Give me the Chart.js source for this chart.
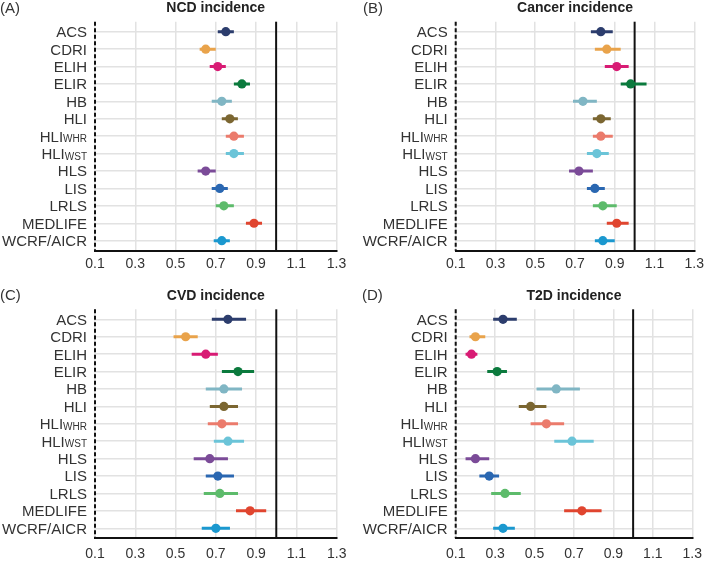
<!DOCTYPE html>
<html>
<head>
<meta charset="utf-8">
<script src="https://cdn.jsdelivr.net/npm/chart.js@4.4.1/dist/chart.umd.min.js"></script>
<style>
  html, body { margin: 0; padding: 0; background: #fff; }
  #wrap { position: relative; width: 709px; height: 563px; overflow: hidden; }
  canvas { position: absolute; }
</style>
</head>
<body>
<div id="wrap">
  <canvas id="panelA" width="354" height="281" style="left:0;top:0"></canvas>
  <canvas id="panelB" width="355" height="281" style="left:354px;top:0"></canvas>
  <canvas id="panelC" width="354" height="282" style="left:0;top:281px"></canvas>
  <canvas id="panelD" width="355" height="282" style="left:354px;top:281px"></canvas>
</div>
<script>
// score names (main text + small subscript part)
const labelMain = ["ACS", "CDRI", "ELIH", "ELIR", "HB", "HLI", "HLI", "HLI", "HLS", "LIS", "LRLS", "MEDLIFE", "WCRF/AICR"];
const labelSub = ["", "", "", "", "", "", "WHR", "WST", "", "", "", "", ""];
const scoreColors = ["#2c3d6d", "#e9a34b", "#d81b74", "#0b7a3d", "#80b6c4", "#7b6631", "#eb7b6c", "#6bc4d8", "#7b4b98", "#2a67b1", "#5dbb6b", "#e0452f", "#1b98cf"];

const xTicks = [0.1, 0.3, 0.5, 0.7, 0.9, 1.1, 1.3];
const refValue = 1.0;

// NCD incidence
const ncdEst = [0.75, 0.65, 0.71, 0.83, 0.73, 0.77, 0.79, 0.79, 0.65, 0.72, 0.74, 0.89, 0.73];
const ncdLo  = [0.71, 0.62, 0.67, 0.79, 0.68, 0.73, 0.75, 0.75, 0.61, 0.68, 0.70, 0.85, 0.69];
const ncdHi  = [0.79, 0.70, 0.75, 0.87, 0.78, 0.81, 0.84, 0.84, 0.70, 0.76, 0.79, 0.93, 0.77];

// Cancer incidence
const cancerEst = [0.83, 0.86, 0.91, 0.98, 0.74, 0.83, 0.83, 0.81, 0.72, 0.80, 0.84, 0.91, 0.84];
const cancerLo  = [0.78, 0.80, 0.85, 0.93, 0.69, 0.79, 0.79, 0.76, 0.67, 0.76, 0.79, 0.86, 0.80];
const cancerHi  = [0.89, 0.93, 0.97, 1.06, 0.81, 0.88, 0.89, 0.87, 0.79, 0.85, 0.91, 0.97, 0.90];

// CVD incidence
const cvdEst = [0.76, 0.55, 0.65, 0.81, 0.74, 0.74, 0.73, 0.76, 0.67, 0.71, 0.72, 0.87, 0.70];
const cvdLo  = [0.68, 0.49, 0.58, 0.73, 0.65, 0.67, 0.66, 0.69, 0.59, 0.65, 0.64, 0.80, 0.63];
const cvdHi  = [0.85, 0.61, 0.71, 0.89, 0.83, 0.81, 0.81, 0.84, 0.76, 0.79, 0.81, 0.95, 0.77];

// T2D incidence
const t2dEst = [0.34, 0.20, 0.18, 0.31, 0.61, 0.48, 0.56, 0.69, 0.20, 0.27, 0.35, 0.74, 0.34];
const t2dLo  = [0.29, 0.17, 0.15, 0.26, 0.51, 0.42, 0.48, 0.60, 0.15, 0.22, 0.28, 0.65, 0.29];
const t2dHi  = [0.41, 0.25, 0.21, 0.36, 0.73, 0.56, 0.65, 0.80, 0.27, 0.32, 0.43, 0.84, 0.40];

const FONT = "'Liberation Sans', Arial, Helvetica, sans-serif";
const TEXT = "#333";

const panelDeco = {
  id: "panelDeco",
  beforeDatasetsDraw(chart) {
    const { ctx, chartArea } = chart;
    const x = chart.scales.x.getPixelForValue(refValue);
    ctx.save();
    ctx.strokeStyle = "#111";
    ctx.lineWidth = 2;
    ctx.beginPath();
    ctx.moveTo(x, chartArea.top);
    ctx.lineTo(x, chartArea.bottom);
    ctx.stroke();
    // dashed left axis line
    ctx.setLineDash([4, 2.5]);
    ctx.beginPath();
    ctx.moveTo(chartArea.left, chartArea.top);
    ctx.lineTo(chartArea.left, chartArea.bottom);
    ctx.stroke();
    ctx.restore();
  },
  afterDraw(chart, args, opts) {
    const { ctx, chartArea } = chart;
    const yScale = chart.scales.y;
    ctx.save();
    ctx.fillStyle = TEXT;
    ctx.textAlign = "right";
    ctx.textBaseline = "alphabetic";
    const xr = chartArea.left - 8;
    labelMain.forEach((txt, i) => {
      const y = yScale.getPixelForValue(i) + 5.4;
      let right = xr;
      if (labelSub[i]) {
        ctx.font = "10px " + FONT;
        ctx.fillText(labelSub[i], right, y + 0.5);
        right -= ctx.measureText(labelSub[i]).width;
      }
      ctx.font = "15px " + FONT;
      ctx.fillText(txt, right, y);
    });
    // title
    ctx.textAlign = "center";
    ctx.textBaseline = "middle";
    ctx.font = "bold 14px " + FONT;
    ctx.fillStyle = "#222";
    ctx.fillText(opts.title, (chartArea.left + chartArea.right) / 2, opts.titleY);
    // panel letter
    ctx.textAlign = "left";
    ctx.font = "15px " + FONT;
    ctx.fillStyle = TEXT;
    ctx.fillText(opts.letter, opts.letterX, opts.titleY);
    ctx.restore();
  }
};

function makePanel(id, title, letter, est, lo, hi, g) {
  const datasets = [{
    data: est.map((v, i) => ({ x: v, y: i })),
    pointBackgroundColor: scoreColors,
    pointBorderColor: scoreColors,
    pointRadius: 4.6,
    pointBorderWidth: 0,
    order: 0
  }];
  est.forEach((_, i) => {
    datasets.push({
      data: [{ x: lo[i], y: i }, { x: hi[i], y: i }],
      showLine: true,
      borderColor: scoreColors[i],
      borderWidth: 3,
      pointRadius: 0,
      order: 1
    });
  });

  return new Chart(document.getElementById(id), {
    type: "scatter",
    data: { datasets },
    plugins: [panelDeco],
    options: {
      responsive: false,
      animation: false,
      events: [],
      layout: {
        padding: { left: g.L - 4, right: g.W - g.R, top: g.T, bottom: g.H - g.B - 24 }
      },
      plugins: {
        legend: { display: false },
        tooltip: { enabled: false },
        panelDeco: { title, letter, titleY: g.titleY, letterX: g.letterX }
      },
      scales: {
        x: {
          type: "linear",
          min: 0.1,
          max: 1.3,
          afterBuildTicks: (s) => { s.ticks = xTicks.map((v) => ({ value: v })); },
          afterFit: (s) => { s.height = 24; },
          ticks: {
            callback: (v) => Number(v).toFixed(1),
            font: { family: FONT, size: 14 },
            color: TEXT,
            padding: g.tickPad,
            autoSkip: false,
            maxRotation: 0
          },
          grid: { color: "#e2e2e2", lineWidth: 1.5, drawTicks: false },
          border: { color: "#111", width: 2 }
        },
        y: {
          type: "linear",
          reverse: true,
          min: -0.575,
          max: 12.575,
          afterBuildTicks: (s) => { s.ticks = labelMain.map((_, i) => ({ value: i })); },
          afterFit: (s) => { s.width = 4; },
          ticks: { display: false },
          grid: { color: "#e2e2e2", lineWidth: 1.5, drawTicks: false },
          border: { display: false }
        }
      }
    }
  });
}

makePanel("panelA", "NCD incidence", "(A)", ncdEst, ncdLo, ncdHi,
  { W: 354, H: 281, L: 95, R: 336.5, T: 21.7, B: 250.7, titleY: 8.5, letterX: 0, tickPad: 5 });
makePanel("panelB", "Cancer incidence", "(B)", cancerEst, cancerLo, cancerHi,
  { W: 355, H: 281, L: 101.7, R: 343.3, T: 21.7, B: 250.7, titleY: 8.5, letterX: 9, tickPad: 5 });
makePanel("panelC", "CVD incidence", "(C)", cvdEst, cvdLo, cvdHi,
  { W: 354, H: 282, L: 95, R: 336.7, T: 28.3, B: 257.3, titleY: 15, letterX: 0, tickPad: 7 });
makePanel("panelD", "T2D incidence", "(D)", t2dEst, t2dLo, t2dHi,
  { W: 355, H: 282, L: 101.7, R: 343.3, T: 28.3, B: 257.3, titleY: 15, letterX: 8, tickPad: 7 });
</script>
</body>
</html>
